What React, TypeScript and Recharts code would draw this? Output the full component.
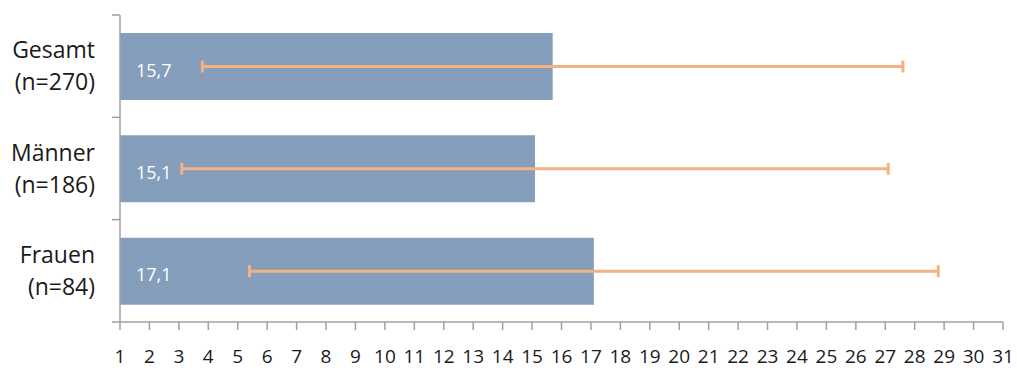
import React from "react";
import { BarChart, Bar, XAxis, YAxis, ErrorBar, LabelList } from "recharts";

document.body.style.margin = "0";

const categories = ["Gesamt", "Männer", "Frauen"];
const sampleSizes = ["(n=270)", "(n=186)", "(n=84)"];
const means = [15.7, 15.1, 17.1];
const sds = [11.9, 12.0, 11.7];
const xTicks = [1, 2, 3, 4, 5, 6, 7, 8, 9, 10, 11, 12, 13, 14, 15, 16, 17, 18, 19, 20, 21, 22, 23, 24, 25, 26, 27, 28, 29, 30, 31];

const data = categories.map((name, i) => ({
  name,
  n: sampleSizes[i],
  mean: means[i],
  sd: sds[i],
}));

const FONT = "'Open Sans', sans-serif";
const AXIS_COLOR = "#a0a0a0";
const TICK_SIZE = 8;
const TICK_MARGIN = 17;

function CategoryTick(props: any) {
  const { x, y, payload, index } = props;
  const axisX = x + TICK_SIZE + TICK_MARGIN;
  const half = payload.offset ?? 51;
  const label = data.find((d) => d.name === payload.value);
  return (
    <g>
      <line x1={axisX - TICK_SIZE} x2={axisX} y1={y - half} y2={y - half} stroke={AXIS_COLOR} strokeWidth={1.5} />
      {index === categories.length - 1 && (
        <line x1={axisX - TICK_SIZE} x2={axisX} y1={y + half} y2={y + half} stroke={AXIS_COLOR} strokeWidth={1.5} />
      )}
      <text x={x} y={y} textAnchor="end" fontFamily={FONT} fontSize={23} fill="#1a1a1a">
        <tspan x={x} dy={-8}>{payload.value}</tspan>
        <tspan x={x} dy={32}>{label ? label.n : ""}</tspan>
      </text>
    </g>
  );
}

function ValueLabel(props: any) {
  const { x, y, height, value } = props;
  return (
    <text x={x + 16} y={y + height / 2 + 10} fill="#ffffff" fontFamily={FONT} fontSize={18}>
      {String(value).replace(".", ",")}
    </text>
  );
}

export default function App() {
  return (
    <div style={{ width: 1017, height: 372, background: "#fff" }}>
      <BarChart
        width={1017}
        height={372}
        data={data}
        layout="vertical"
        margin={{ top: 15, right: 14, bottom: 0, left: 0 }}
      >
        <XAxis
          type="number"
          domain={[1, 31]}
          ticks={xTicks}
          interval={0}
          height={50}
          tickSize={TICK_SIZE}
          tickMargin={20}
          axisLine={{ stroke: AXIS_COLOR, strokeWidth: 1.5 }}
          tickLine={{ stroke: AXIS_COLOR, strokeWidth: 1.5 }}
          tick={{ fontFamily: FONT, fontSize: 19, fill: "#1a1a1a" }}
        />
        <YAxis
          type="category"
          dataKey="name"
          width={120}
          tickSize={TICK_SIZE}
          tickMargin={TICK_MARGIN}
          tickLine={false}
          axisLine={{ stroke: AXIS_COLOR, strokeWidth: 1.5 }}
          tick={<CategoryTick />}
        />
        <Bar dataKey="mean" fill="#849ebb" barSize={67} isAnimationActive={false}>
          <LabelList dataKey="mean" content={<ValueLabel />} />
          <ErrorBar dataKey="sd" direction="x" width={6} stroke="#f4b183" strokeWidth={3} />
        </Bar>
      </BarChart>
    </div>
  );
}
